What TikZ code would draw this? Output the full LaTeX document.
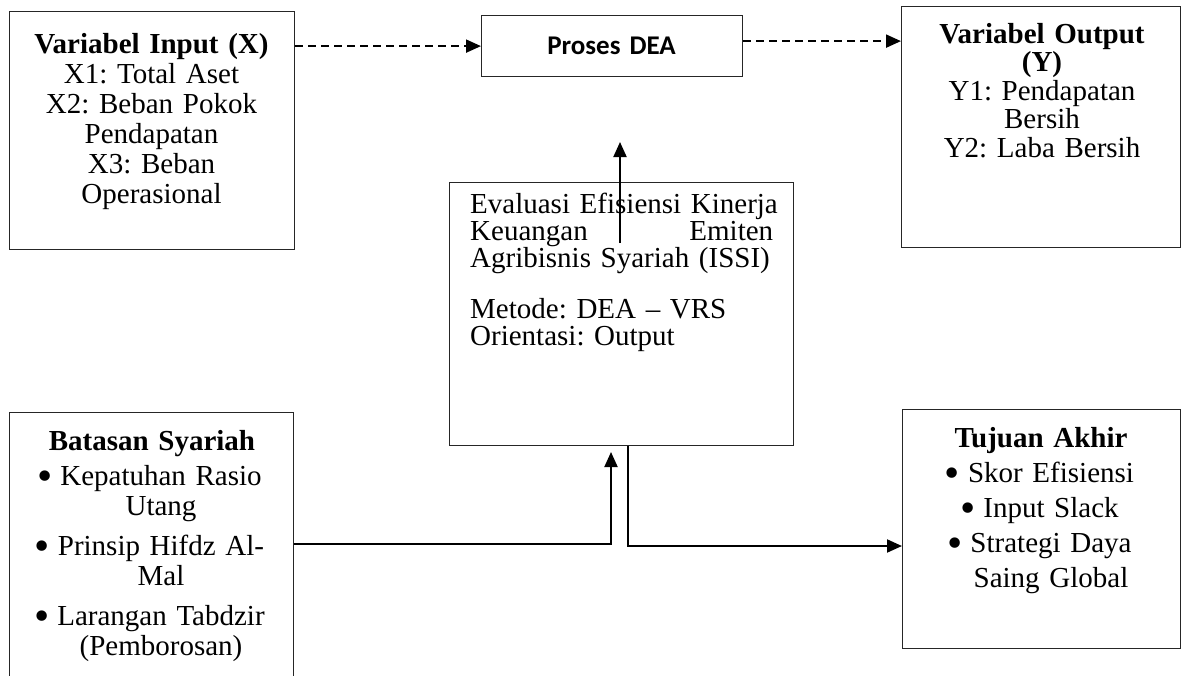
\documentclass[tikz,border=0pt]{standalone}
\usepackage{fontspec}
\setmainfont{Liberation Serif}
\newfontfamily\calibrifont{Carlito}
\usetikzlibrary{arrows.meta}
\frenchspacing
\newcommand{\bul}{\leavevmode\llap{\raisebox{-5.5pt}{\scalebox{1.5}{\textbullet}}\hspace{8pt}}}
\begin{document}
\begin{tikzpicture}[x=1pt,y=-1pt,
  box/.style={draw=black!85, line width=1.2pt, inner sep=0pt, anchor=north west},
  txt/.style={inner sep=0pt, anchor=base, align=center, text width=270pt, font=\fontsize{29}{30}\selectfont},
  conn/.style={line width=2pt, -{Triangle[length=15pt,width=13pt]}},
  dconn/.style={conn, dash pattern=on 8pt off 5pt},
]
\useasboundingbox (0,0) rectangle (1186,675);
\clip (0,0) rectangle (1186,675);
\fill[white] (0,0) rectangle (1186,675);

% boxes
\node[box, minimum width=285pt, minimum height=238pt] (inbox) at (9,11) {};
\node[box, minimum width=261pt, minimum height=61pt] (proses) at (481,15) {};
\node[box, minimum width=279pt, minimum height=241pt] (outbox) at (901,6) {};
\node[box, minimum width=344pt, minimum height=263pt] (central) at (449,182) {};
\node[box, minimum width=284pt, minimum height=290pt] (batasan) at (9,412) {};
\node[box, minimum width=278pt, minimum height=239pt] (tujuan) at (902,409) {};

% texts
\node[txt] (intext) at (151.5,53) {\textbf{Variabel Input (X)}\\X1: Total Aset\\X2: Beban Pokok\\Pendapatan\\X3: Beban\\Operasional};
\node[txt, font=\calibrifont\bfseries\fontsize{27}{30}\selectfont] (prosestext) at (611.5,54) {Proses DEA};
\node[txt, font=\fontsize{29}{28.5}\selectfont] (outtext) at (1042,43) {\textbf{Variabel Output}\\\textbf{(Y)}\\Y1: Pendapatan\\Bersih\\Y2: Laba Bersih};
\node[txt, anchor=base west, align=left, text width=330pt, font=\fontsize{29}{27}\selectfont] (centraltext) at (470,213)
  {Evaluasi Efisiensi Kinerja\\\makebox[303pt][s]{Keuangan\hfill Emiten}\\Agribisnis Syariah (ISSI)\\[24pt]Metode: DEA -- VRS\\Orientasi: Output};
\node[txt] (bathead) at (152,450) {\textbf{Batasan Syariah}};
\node[txt] (batitems) at (161,485) {\bul Kepatuhan Rasio\\Utang\\[10pt]\bul Prinsip Hifdz Al-\\Mal\\[10pt]\bul Larangan Tabdzir\\(Pemborosan)};
\node[txt] (tujhead) at (1041,447) {\textbf{Tujuan Akhir}};
\node[txt, font=\fontsize{29}{35}\selectfont] (tujitems) at (1051,482) {\bul Skor Efisiensi\\\bul Input Slack\\\bul Strategi Daya\\Saing Global};

% helper coordinates
\coordinate (fa) at (620,243);
\coordinate (fb) at (620,142);
\coordinate (lj) at (611,452);
\coordinate (ly) at (0,544);
\coordinate (rx) at (628,0);
\coordinate (ry) at (0,546);

% connectors
\draw[dconn] (proses.west -| inbox.east) -- (proses.west);
\draw[dconn] ([yshift=5pt]proses.east) -- ([yshift=5pt]proses.east -| outbox.west);
\draw[conn] (fa) -- (fb);
\draw[conn] (batasan.east |- ly) -| (lj);
\draw[conn] (central.south -| rx) |- (tujuan.west |- ry);
\end{tikzpicture}
\end{document}
